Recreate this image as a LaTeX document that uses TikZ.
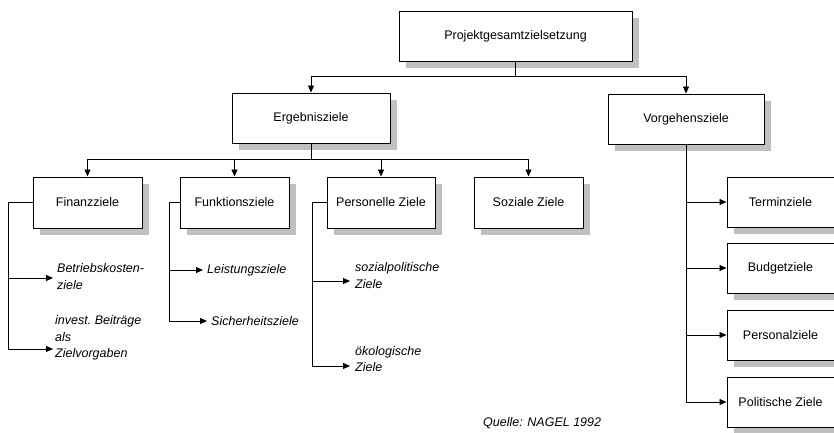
\documentclass[tikz,border=0pt]{standalone}
\usepackage{fontspec}
\setmainfont{Liberation Sans}
\usetikzlibrary{arrows.meta,shadows}
\definecolor{schatten}{RGB}{192,192,192}

\begin{document}
\begin{tikzpicture}[x=1pt,y=-1pt,
    ziel/.style={draw, fill=white, line width=1pt, minimum height=50pt, inner sep=0pt,
      font=\fontsize{12.5}{15}\selectfont,
      drop shadow={shadow xshift=7pt, shadow yshift=-7pt, fill=schatten, opacity=1}},
    unterziel/.style={anchor=west, inner sep=0pt, align=left,
      font=\fontsize{12.5}{16.5}\selectfont\itshape},
    linie/.style={line width=0.9pt},
    pfeil/.style={linie, -{Triangle[length=7pt,width=6pt]}}]
        \useasboundingbox (0,0) rectangle (834,432);

        % top level
        \node[ziel, minimum width=233pt] (gesamt) at (515.5,36) {Projektgesamtzielsetzung};
        \node[ziel, minimum width=158pt] (ergebnis) at (311,118) {Ergebnisziele};
        \node[ziel, minimum width=156pt] (vorgehen) at (686,119) {Vorgehensziele};

        % Ergebnisziele
        \node[ziel, minimum width=109pt, minimum height=51pt] (finanz) at (87.5,202.5) {Finanzziele};
        \node[ziel, minimum width=109pt, minimum height=51pt] (funktion) at (234.5,202.5) {Funktionsziele};
        \node[ziel, minimum width=108pt, minimum height=51pt] (personell) at (381,202.5) {Personelle Ziele};
        \node[ziel, minimum width=109pt, minimum height=51pt] (sozial) at (528.5,202.5) {Soziale Ziele};

        % Vorgehensziele
        \node[ziel, minimum width=107pt] (termin) at (780.5,202) {Terminziele};
        \node[ziel, minimum width=107pt] (budget) at (780.5,268) {Budgetziele};
        \node[ziel, minimum width=107pt] (personal) at (780.5,335) {Personalziele};
        \node[ziel, minimum width=107pt] (politik) at (780.5,402) {Politische Ziele};

        % sub goals
        \coordinate (betriebTip) at (53,278);
        \coordinate (investTip) at (53,349);
        \coordinate (leistungTip) at (203,270);
        \coordinate (sicherTip) at (207,321);
        \coordinate (sozpolTip) at (350,281);
        \coordinate (oekoTip) at (350,366);
        \node[unterziel] (betrieb) at (57,276.5) {Betriebskosten-\\ziele};
        \node[unterziel] (invest) at (55,338) {invest.\ Beiträge\\als\\Zielvorgaben};
        \node[unterziel] (leistung) at (207,270) {Leistungsziele};
        \node[unterziel] (sicher) at (211,321) {Sicherheitsziele};
        \node[unterziel] (sozpol) at (355,275.5) {sozialpolitische\\Ziele};
        \node[unterziel] (oeko) at (355,359) {ökologische\\Ziele};

        % source
        \node[unterziel] (quelle) at (483,423) {Quelle: NAGEL 1992};

        % connectors top
        \path[draw, pfeil] (gesamt.south) -- ++(0,15) -| (ergebnis.north);
        \path[draw, pfeil] (gesamt.south) -- ++(0,15) -| (vorgehen.north);
        \foreach \n in {finanz,funktion,personell,sozial}
          \path[draw, pfeil] (ergebnis.south) -- ++(0,16) -| (\n.north);

        % brackets left
        \path[draw, pfeil] (finanz.west) -- ++(-24,0) |- (betriebTip);
        \path[draw, pfeil] (finanz.west) -- ++(-24,0) |- (investTip);
        \path[draw, pfeil] (funktion.west) -- ++(-10,0) |- (leistungTip);
        \path[draw, pfeil] (funktion.west) -- ++(-10,0) |- (sicherTip);
        \path[draw, pfeil] (personell.west) -- ++(-14,0) |- (sozpolTip);
        \path[draw, pfeil] (personell.west) -- ++(-14,0) |- (oekoTip);

        % bracket right
        \path[draw, linie] (vorgehen.south) -- (vorgehen.south |- politik.west);
        \foreach \n in {termin,budget,personal,politik}
          \path[draw, pfeil] (vorgehen.south |- \n.west) -- (\n.west);
\end{tikzpicture}
\end{document}
